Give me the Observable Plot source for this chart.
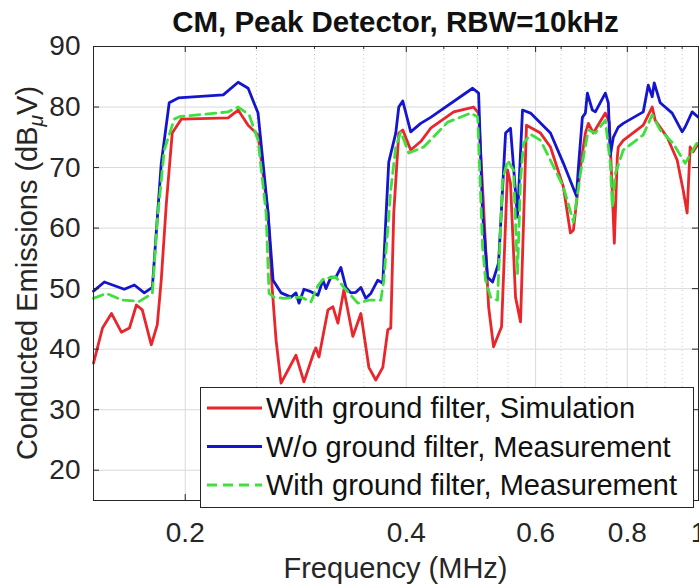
<!DOCTYPE html>
<html><head><meta charset="utf-8">
<script src="https://cdn.jsdelivr.net/npm/d3@7"></script>
<script src="https://cdn.jsdelivr.net/npm/@observablehq/plot@0.6"></script>
<style>
html,body{margin:0;padding:0;background:#fff;}
#wrap{position:relative;width:699px;height:586px;overflow:hidden;font-family:"Liberation Sans",Arial,sans-serif;background:#fff;}
#wrap svg{position:absolute;left:0;top:0;}
</style></head><body><div id="wrap"></div>
<script>
const title = "CM, Peak Detector, RBW=10kHz";
const xLabel = "Frequency (MHz)";
const yLabelParts = ["Conducted Emissions (dB", "μ", "V)"];
const seriesNames = ["With ground filter, Simulation", "W/o ground filter, Measurement", "With ground filter, Measurement"];
const seriesColors = ["#e8262b", "#1515d0", "#3ee03e"];
const seriesDash = [null, null, "10,6"];
const xTicks = [0.2, 0.4, 0.6, 0.8, 1];
const xTickLabels = ["0.2", "0.4", "0.6", "0.8", "1"];
const xMinorTicks = [0.25, 0.3, 0.35, 0.45, 0.5, 0.55, 0.65, 0.7, 0.75, 0.85, 0.9, 0.95];
const yTicks = [20, 30, 40, 50, 60, 70, 80, 90];

// [frequency MHz, dBuV]
const simulation = [[0.150,37.7],[0.1543,43.5],[0.1587,45.9],[0.1637,42.8],[0.1679,43.5],[0.1716,47.3],[0.1748,46.5],[0.1798,40.7],[0.1832,44.0],[0.1855,51.4],[0.1885,64.1],[0.1920,75.7],[0.1975,78.0],[0.2288,78.2],[0.2361,79.5],[0.2436,77.0],[0.2513,75.4],[0.2593,62.5],[0.2626,50.3],[0.2659,41.5],[0.2701,34.4],[0.2830,39.0],[0.2902,34.6],[0.2994,39.5],[0.3013,40.2],[0.3042,38.7],[0.3129,46.5],[0.3178,47.0],[0.3228,44.3],[0.3289,49.8],[0.3383,42.1],[0.3469,45.9],[0.3557,37.0],[0.3635,34.9],[0.3716,37.0],[0.3775,43.2],[0.3810,43.5],[0.3846,62.5],[0.3907,75.7],[0.3956,76.2],[0.4056,72.9],[0.4185,74.3],[0.4318,76.5],[0.4641,79.2],[0.4940,80.0],[0.5018,79.0],[0.5097,63.5],[0.5178,47.0],[0.5259,40.4],[0.5393,43.7],[0.5495,69.6],[0.5546,67.4],[0.5634,48.6],[0.5723,44.5],[0.5831,77.0],[0.6093,75.7],[0.6286,73.4],[0.6547,66.8],[0.6692,59.2],[0.6756,59.7],[0.6905,70.0],[0.7014,75.7],[0.7080,77.3],[0.7191,75.7],[0.7467,79.0],[0.7561,77.5],[0.7632,65.8],[0.7680,57.5],[0.7752,71.7],[0.7777,73.4],[0.7899,74.5],[0.8410,77.0],[0.8649,80.0],[0.8731,77.8],[0.9066,75.0],[0.9354,71.2],[0.9530,66.3],[0.9650,62.5],[0.9741,73.4],[0.9833,72.6],[1.0,74.0]];
const withoutFilter = [[0.150,49.6],[0.1552,51.1],[0.1652,49.9],[0.1705,50.6],[0.1759,49.3],[0.1804,50.2],[0.1855,70.7],[0.1902,80.7],[0.1957,81.5],[0.2253,82.0],[0.2361,84.1],[0.2436,83.1],[0.2513,79.0],[0.2593,62.5],[0.2634,51.4],[0.2701,49.3],[0.2787,48.6],[0.2830,49.3],[0.2857,47.6],[0.2902,49.9],[0.2966,49.5],[0.3032,48.9],[0.3080,51.4],[0.3109,50.0],[0.3158,51.9],[0.3208,51.9],[0.3258,53.5],[0.3310,50.2],[0.3362,49.3],[0.3415,49.4],[0.3469,50.2],[0.3523,48.4],[0.3579,49.2],[0.3658,51.4],[0.3716,50.9],[0.3751,61.3],[0.3786,70.9],[0.3870,75.7],[0.3907,80.0],[0.3956,81.0],[0.4056,75.9],[0.4185,77.3],[0.4318,78.3],[0.4925,83.1],[0.5018,82.3],[0.5081,62.5],[0.5162,51.9],[0.5243,51.1],[0.5342,54.2],[0.5461,75.7],[0.5546,76.5],[0.5669,61.8],[0.5759,79.5],[0.5905,79.0],[0.6286,75.7],[0.6547,70.7],[0.6820,65.3],[0.6862,70.0],[0.6948,78.3],[0.7014,79.0],[0.7058,82.3],[0.7169,79.5],[0.7237,79.2],[0.7467,82.3],[0.7537,80.7],[0.7584,72.0],[0.7656,75.0],[0.7777,76.7],[0.7899,77.3],[0.8410,79.2],[0.8542,83.6],[0.8649,81.7],[0.8704,84.0],[0.8869,80.7],[0.9208,79.0],[0.9501,75.9],[0.9591,76.7],[0.9803,79.2],[1.0,78.3]];
const withFilter = [[0.150,48.4],[0.1562,49.2],[0.1642,48.1],[0.1732,47.9],[0.1804,49.2],[0.1832,61.3],[0.1873,72.9],[0.1932,78.0],[0.1963,78.4],[0.2288,79.2],[0.2361,80.0],[0.2444,78.7],[0.2513,74.5],[0.2577,62.5],[0.2601,49.2],[0.2642,48.6],[0.2726,48.4],[0.2875,48.6],[0.2966,47.8],[0.3032,50.5],[0.3090,51.7],[0.3208,51.9],[0.3289,50.2],[0.3436,47.6],[0.3557,48.1],[0.3693,48.1],[0.3728,51.4],[0.3810,66.3],[0.3870,73.4],[0.3931,75.9],[0.4031,72.4],[0.4225,73.4],[0.4554,77.5],[0.4894,79.0],[0.5003,78.4],[0.5081,56.9],[0.5129,51.4],[0.5210,48.6],[0.5325,48.1],[0.5409,67.9],[0.5495,71.2],[0.5599,69.6],[0.5669,52.5],[0.5723,67.9],[0.5777,74.0],[0.5905,75.5],[0.6093,74.5],[0.6286,71.2],[0.6547,66.8],[0.6756,61.0],[0.6905,69.0],[0.7080,76.2],[0.7237,75.7],[0.7467,77.8],[0.7584,70.7],[0.7632,63.5],[0.7704,69.0],[0.7899,72.9],[0.8410,75.4],[0.8649,78.7],[0.8869,76.2],[0.9236,74.0],[0.9591,70.7],[1.0,74.5]];

const allSeries = [simulation, withoutFilter, withFilter];

const W = 699, H = 586;
const mL = 93, mR = 1, mT = 46, mB = 86;
const frameH = H - mT - mB, frameW = W - mL - mR;
const axisColor = "#262626";

const lineMarks = allSeries.map((s, i) => Plot.line(s, {
  x: d => d[0], y: d => d[1], stroke: seriesColors[i], strokeWidth: 2.8,
  strokeDasharray: seriesDash[i] || undefined, strokeLinejoin: "round"
}));

const chart = Plot.plot({
  width: W, height: H,
  marginLeft: mL, marginRight: mR, marginTop: mT, marginBottom: mB,
  style: {background: "transparent", fontFamily: "'Liberation Sans', Arial, sans-serif", color: axisColor, overflow: "visible"},
  x: {type: "log", domain: [0.15, 1]},
  y: {domain: [15, 90]},
  marks: [
    Plot.gridY(yTicks, {stroke: "#dadada", strokeOpacity: 1}),
    Plot.gridX(xTicks, {stroke: "#dadada", strokeOpacity: 1}),
    Plot.ruleX(xMinorTicks, {stroke: "#c8c8c8", strokeDasharray: "1,3"}),
    ...lineMarks,
    Plot.frame({stroke: axisColor, strokeWidth: 1}),
    Plot.tickX(xTicks, {x: d => d, insetTop: frameH - 6, stroke: axisColor}),
    Plot.tickX(xTicks, {x: d => d, insetBottom: frameH - 6, stroke: axisColor}),
    Plot.tickX(xMinorTicks, {x: d => d, insetTop: frameH - 3, stroke: axisColor}),
    Plot.tickX(xMinorTicks, {x: d => d, insetBottom: frameH - 3, stroke: axisColor}),
    Plot.tickY(yTicks, {y: d => d, insetRight: frameW - 6, stroke: axisColor}),
    Plot.tickY(yTicks, {y: d => d, insetLeft: frameW - 6, stroke: axisColor}),
    Plot.axisX(xTicks, {tickSize: 0, tickPadding: 22, fontSize: 28, tickFormat: d => xTickLabels[xTicks.indexOf(d)], label: null, fill: axisColor}),
    Plot.axisY(yTicks, {tickSize: 0, tickPadding: 13, fontSize: 28, label: null, fill: axisColor})
  ]
});

const wrap = document.getElementById("wrap");
wrap.appendChild(chart);

// overlay: title, axis labels, legend
const ov = d3.select(wrap).append("svg").attr("width", W).attr("height", H)
  .style("font-family", "'Liberation Sans', Arial, sans-serif");
const cx = mL + frameW / 2;
ov.append("text").attr("x", cx).attr("y", 32).attr("text-anchor", "middle")
  .attr("font-size", 29.5).attr("font-weight", "bold").attr("fill", "#111").text(title);
ov.append("text").attr("x", cx).attr("y", 578).attr("text-anchor", "middle")
  .attr("font-size", 29).attr("fill", axisColor).text(xLabel);
const yl = ov.append("text").attr("transform", `translate(37,${mT + frameH / 2}) rotate(-90)`)
  .attr("text-anchor", "middle").attr("font-size", 29).attr("fill", axisColor);
yl.append("tspan").text(yLabelParts[0]);
yl.append("tspan").attr("font-style", "italic").attr("font-size", 21).attr("dy", 6).text(yLabelParts[1]);
yl.append("tspan").attr("dy", -6).text(yLabelParts[2]);

const lg = ov.append("g");
lg.append("rect").attr("x", 200.5).attr("y", 387.5).attr("width", 493).attr("height", 120)
  .attr("fill", "#fff").attr("stroke", axisColor).attr("stroke-width", 1);
seriesNames.forEach((name, i) => {
  const y = 408 + i * 38.5;
  lg.append("line").attr("x1", 207).attr("x2", 262).attr("y1", y).attr("y2", y)
    .attr("stroke", seriesColors[i]).attr("stroke-width", 2.8)
    .attr("stroke-dasharray", seriesDash[i]);
  lg.append("text").attr("x", 266).attr("y", y).attr("dy", "0.35em")
    .attr("font-size", 29).attr("fill", "#111").text(name);
});
</script></body></html>
